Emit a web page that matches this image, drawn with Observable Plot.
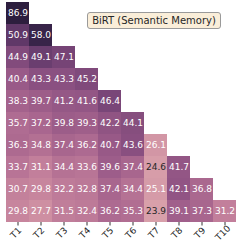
<!DOCTYPE html>
<html>
<head>
<meta charset="utf-8">
<script src="https://cdn.jsdelivr.net/npm/d3@7"></script>
<script src="https://cdn.jsdelivr.net/npm/@observablehq/plot@0.6"></script>
<style>
  html, body { margin: 0; padding: 0; background: #fff; }
  #wrap { position: relative; width: 241px; height: 248px; font-family: "DejaVu Sans", sans-serif; }
  #legend {
    position: absolute; left: 87px; top: 12px; width: 134px; height: 17px;
    box-sizing: border-box; border: 1px solid #9a9a9a; border-radius: 3px;
    background: #faeed9; color: #262626; font-size: 10px; line-height: 15px;
    text-align: center; white-space: nowrap;
  }
</style>
</head>
<body>
<div id="wrap"><div id="legend">BiRT (Semantic Memory)</div></div>
<script>
const tasks = ["T1", "T2", "T3", "T4", "T5", "T6", "T7", "T8", "T9", "T10"];
const rowIndex = [0, 1, 2, 3, 4, 5, 6, 7, 8, 9];
const row0 = [86.9];
const row1 = [50.9, 58.0];
const row2 = [44.9, 49.1, 47.1];
const row3 = [40.4, 43.3, 43.3, 45.2];
const row4 = [38.3, 39.7, 41.2, 41.6, 46.4];
const row5 = [35.7, 37.2, 39.8, 39.3, 42.2, 44.1];
const row6 = [36.3, 34.8, 37.4, 36.2, 40.7, 43.6, 26.1];
const row7 = [33.7, 31.1, 34.4, 33.6, 39.6, 37.4, 24.6, 41.7];
const row8 = [30.7, 29.8, 32.2, 32.8, 37.4, 34.4, 25.1, 42.1, 36.8];
const row9 = [29.8, 27.7, 31.5, 32.4, 36.2, 35.3, 23.9, 39.1, 37.3, 31.2];
const rows = [row0, row1, row2, row3, row4, row5, row6, row7, row8, row9];
const colorDomain = [14, 60];
const legendTitle = "BiRT (Semantic Memory)";

const cells = [];
rows.forEach((r, i) => r.forEach((v, j) => cells.push({row: rowIndex[i], task: tasks[j], value: v})));

// seaborn default cubehelix_palette (light=.85, dark=.15, rot=.4, hue=.8)
function cubehelix(t) {
  t = Math.max(0, Math.min(1, t));
  const x = 0.85 + (0.15 - 0.85) * t;
  const a = 0.8 * x * (1 - x) / 2;
  const phi = 2 * Math.PI * (0.4 * x);
  const c = Math.cos(phi), s = Math.sin(phi);
  const cl = v => Math.max(0, Math.min(1, v));
  const r = cl(x + a * (-0.14861 * c + 1.78277 * s));
  const g = cl(x + a * (-0.29227 * c - 0.90649 * s));
  const b = cl(x + a * (1.97294 * c));
  return `rgb(${Math.round(r * 255)},${Math.round(g * 255)},${Math.round(b * 255)})`;
}
function textColor(v) {
  const col = d3.rgb(cubehelix((v - colorDomain[0]) / (colorDomain[1] - colorDomain[0])));
  const lin = u => { u /= 255; return u <= 0.03928 ? u / 12.92 : Math.pow((u + 0.055) / 1.055, 2.4); };
  const lum = 0.2126 * lin(col.r) + 0.7152 * lin(col.g) + 0.0722 * lin(col.b);
  return lum > 0.408 ? "#262626" : "white";
}

document.getElementById("legend").textContent = legendTitle;

const chart = Plot.plot({
  width: 241,
  height: 248,
  marginLeft: 5,
  marginRight: 4,
  marginTop: 2,
  marginBottom: 26,
  style: {fontFamily: "DejaVu Sans", background: "white"},
  x: {domain: tasks, padding: 0, label: null},
  y: {domain: rowIndex, padding: 0, axis: null},
  color: {type: "linear", domain: colorDomain, interpolate: cubehelix, clamp: true},
  marks: [
    Plot.cell(cells, {x: "task", y: "row", fill: "value"}),
    Plot.text(cells, {x: "task", y: "row", text: d => d.value.toFixed(1), fill: d => textColor(d.value), fontSize: 9}),
    Plot.axisX({tickSize: 3.5, tickFormat: () => "", label: null, stroke: "#333"}),
    Plot.text(tasks, {x: d => d, frameAnchor: "bottom", dy: 12.5, rotate: -45, fontSize: 9, fill: "#262626"})
  ]
});
document.getElementById("wrap").prepend(chart);
</script>
</body>
</html>
